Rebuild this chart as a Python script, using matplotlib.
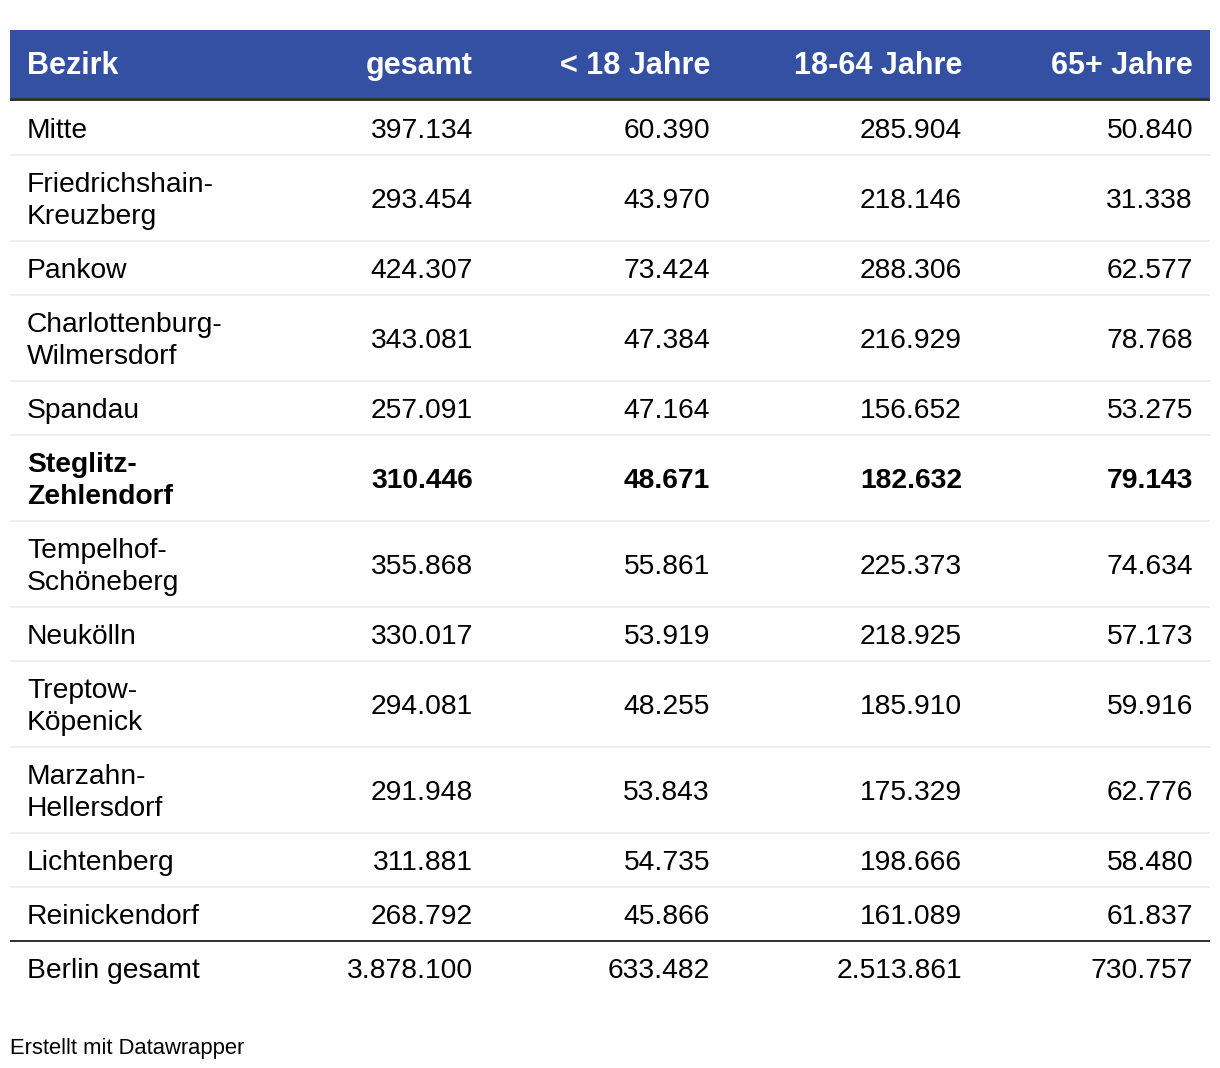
import matplotlib
matplotlib.use("Agg")
import matplotlib.pyplot as plt
from matplotlib.patches import Rectangle

# ---- data ----
headers = ["Bezirk", "gesamt", "< 18 Jahre", "18-64 Jahre", "65+ Jahre"]
bezirke = ["Mitte", "Friedrichshain-\nKreuzberg", "Pankow", "Charlottenburg-\nWilmersdorf",
           "Spandau", "Steglitz-\nZehlendorf", "Tempelhof-\nSchöneberg", "Neukölln",
           "Treptow-\nKöpenick", "Marzahn-\nHellersdorf", "Lichtenberg", "Reinickendorf"]
gesamt = ["397.134", "293.454", "424.307", "343.081", "257.091", "310.446", "355.868",
          "330.017", "294.081", "291.948", "311.881", "268.792"]
unter18 = ["60.390", "43.970", "73.424", "47.384", "47.164", "48.671", "55.861",
           "53.919", "48.255", "53.843", "54.735", "45.866"]
j18_64 = ["285.904", "218.146", "288.306", "216.929", "156.652", "182.632", "225.373",
          "218.925", "185.910", "175.329", "198.666", "161.089"]
j65 = ["50.840", "31.338", "62.577", "78.768", "53.275", "79.143", "74.634",
       "57.173", "59.916", "62.776", "58.480", "61.837"]
highlight = "Steglitz-\nZehlendorf"
total_row = ["Berlin gesamt", "3.878.100", "633.482", "2.513.861", "730.757"]
footer = "Erstellt mit Datawrapper"

# ---- layout ----
W, H = 1220, 1068
fig = plt.figure(figsize=(W / 100, H / 100), dpi=100)
ax = fig.add_axes([0, 0, 1, 1])
ax.set_xlim(0, W)
ax.set_ylim(H, 0)
ax.axis("off")

FONT = "Liberation Sans"
FS = 20.3
FS_HEAD = 22
left, right = 10, 1210
col_x = [27, 473, 710, 962, 1193]
col_ha = ["left", "right", "right", "right", "right"]
HEADER_BG = "#3450a3"

# header
ax.add_patch(Rectangle((left, 30), right - left, 68, facecolor=HEADER_BG, edgecolor="none"))
ax.add_patch(Rectangle((left, 98), right - left, 3, facecolor="#333333", edgecolor="none"))
for x, ha, h in zip(col_x, col_ha, headers):
    ax.text(x, 74, h, ha=ha, va="baseline", fontsize=FS_HEAD, fontweight="bold",
            color="white", family=FONT)

# rows
y = 101
columns = [gesamt, unter18, j18_64, j65]
for i, name in enumerate(bezirke):
    lines = name.split("\n")
    h = 54 if len(lines) == 1 else 86
    c = y + h / 2
    weight = "bold" if name == highlight else "normal"
    if len(lines) == 1:
        ax.text(col_x[0], c + 10, lines[0], ha="left", va="baseline", fontsize=FS,
                fontweight=weight, color="black", family=FONT)
    else:
        for k, ln in enumerate(lines):
            ax.text(col_x[0], c + 10 - 16 + 32 * k, ln, ha="left", va="baseline",
                    fontsize=FS, fontweight=weight, color="black", family=FONT)
    for j, col in enumerate(columns):
        ax.text(col_x[j + 1], c + 10, col[i], ha="right", va="baseline", fontsize=FS,
                fontweight=weight, color="black", family=FONT)
    y += h
    if i < len(bezirke) - 1:
        ax.add_patch(Rectangle((left, y - 1), right - left, 2, facecolor="#eeeeee",
                               edgecolor="none"))

# total separator
ax.add_patch(Rectangle((left, y - 1), right - left, 2, facecolor="#333333", edgecolor="none"))
c = y + 27
for x, ha, t in zip(col_x, col_ha, total_row):
    ax.text(x, c + 10, t, ha=ha, va="baseline", fontsize=FS, color="black", family=FONT)

ax.text(10, 1054, footer, ha="left", va="baseline", fontsize=15.8, color="black", family=FONT)

fig.savefig("out.png", dpi=100, facecolor="white")
